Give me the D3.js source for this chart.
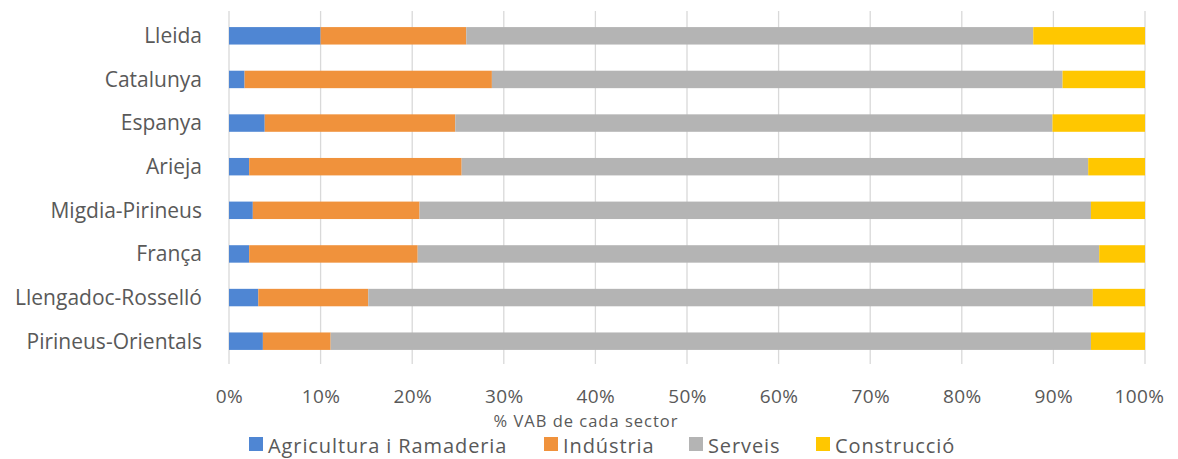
<!DOCTYPE html>
<html lang="ca">
<head>
<meta charset="utf-8">
<title>% VAB de cada sector</title>
<script src="https://d3js.org/d3.v7.min.js"></script>
<style>
  body { margin: 0; background: #fff; }
  text { font-family: "Open Sans", sans-serif; fill: #595959; }
</style>
</head>
<body>
<div id="chart"></div>
<script>
// territories, top to bottom
var regions = ["Lleida", "Catalunya", "Espanya", "Arieja", "Migdia-Pirineus",
               "França", "Llengadoc-Rosselló", "Pirineus-Orientals"];

var sectors = ["Agricultura i Ramaderia", "Indústria", "Serveis", "Construcció"];

// % of VAB by sector, same order as regions
var agricultura  = [10.0, 1.7, 3.9, 2.2, 2.6, 2.2, 3.2, 3.7];
var industria    = [15.9, 27.0, 20.8, 23.2, 18.2, 18.4, 12.0, 7.4];
var serveis      = [61.9, 62.3, 65.2, 68.4, 73.3, 74.4, 79.1, 83.0];
var construccio  = [12.2, 9.0, 10.1, 6.2, 5.9, 5.0, 5.7, 5.9];

var ticks = [0, 10, 20, 30, 40, 50, 60, 70, 80, 90, 100];
var colors = ["#4f86d3", "#f0923c", "#b4b4b4", "#ffc700"];

var W = 1178, H = 459;
var margin = {top: 14, right: 33, bottom: 96, left: 229};
var width = W - margin.left - margin.right,
    height = H - margin.top - margin.bottom;

var svg = d3.select("#chart").append("svg")
    .attr("width", W)
    .attr("height", H);

var g = svg.append("g")
    .attr("transform", "translate(" + margin.left + "," + margin.top + ")");

var x = d3.scaleLinear().domain([0, 100]).range([0, width]);
var y = d3.scaleBand().domain(regions).range([0, height]).paddingInner(0.6).paddingOuter(0.3);

// build rows for stacking
var series = [agricultura, industria, serveis, construccio];
var rows = regions.map(function(r, i) {
  var o = {region: r};
  sectors.forEach(function(s, k) { o[s] = series[k][i]; });
  return o;
});
var stacked = d3.stack().keys(sectors)(rows);

// gridlines
g.append("g")
  .selectAll("line")
  .data(ticks)
  .enter().append("line")
    .attr("x1", function(d) { return x(d); })
    .attr("x2", function(d) { return x(d); })
    .attr("y1", -3)
    .attr("y2", height + 1)
    .attr("stroke", "#d9d9d9")
    .attr("stroke-width", 1.3);

// bars
g.append("g")
  .selectAll("g")
  .data(stacked)
  .enter().append("g")
    .attr("fill", function(d, i) { return colors[i]; })
  .selectAll("rect")
  .data(function(d) { return d; })
  .enter().append("rect")
    .attr("x", function(d) { return x(d[0]); })
    .attr("width", function(d) { return x(d[1]) - x(d[0]); })
    .attr("y", function(d) { return y(d.data.region); })
    .attr("height", y.bandwidth());

// category axis
var yAxis = g.append("g")
  .attr("transform", "translate(-27,0)")
  .call(d3.axisLeft(y).tickSize(0).tickPadding(0));
yAxis.select(".domain").remove();
yAxis.selectAll("text")
  .attr("font-size", 21)
  .attr("dy", "0.35em")
  .style("font-family", "'Open Sans', sans-serif")
  .attr("fill", "#595959");

// value axis
var xAxis = g.append("g")
  .attr("transform", "translate(0," + height + ")")
  .call(d3.axisBottom(x).tickValues(ticks).tickSize(0).tickPadding(0)
        .tickFormat(function(d) { return d + "%"; }));
xAxis.select(".domain").remove();
xAxis.selectAll("text")
  .attr("y", 40)
  .attr("dy", 0)
  .attr("font-size", 19)
  .attr("letter-spacing", 0.4)
  .style("font-family", "'Open Sans', sans-serif")
  .attr("fill", "#595959");
// last label sits a bit left, as in the original
xAxis.selectAll(".tick").filter(function(d) { return d === 100; })
  .select("text").attr("x", -6);

// axis title
svg.append("text")
  .attr("x", 586)
  .attr("y", 426.5)
  .attr("text-anchor", "middle")
  .attr("font-size", 16.5)
  .attr("letter-spacing", 1)
  .text("% VAB de cada sector");

// legend
var legendX = [249, 544, 689, 816];
var legend = svg.append("g")
  .selectAll("g")
  .data(sectors)
  .enter().append("g")
    .attr("transform", function(d, i) { return "translate(" + legendX[i] + ",437)"; });
legend.append("rect")
  .attr("width", 14)
  .attr("height", 14)
  .attr("fill", function(d, i) { return colors[i]; });
legend.append("text")
  .attr("x", 19)
  .attr("y", 16)
  .attr("font-size", 20)
  .attr("letter-spacing", 0.9)
  .text(function(d) { return d; });
</script>
</body>
</html>
